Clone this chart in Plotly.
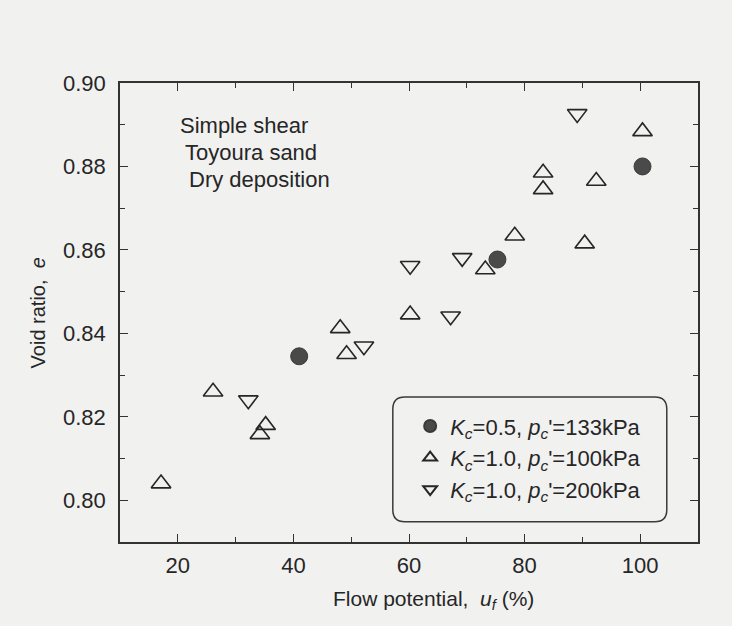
import plotly.graph_objects as go

# Flow potential u_f (%) and void ratio e for each test series
kc05_p133_u = [41.0, 75.3, 100.4]
kc05_p133_e = [0.8345, 0.8577, 0.8800]

kc10_p100_u = [17.1, 26.1, 34.2, 35.2, 48.1, 49.2, 60.2, 73.2, 78.3, 83.2, 83.2, 90.4, 92.4, 100.4]
kc10_p100_e = [0.8040, 0.8260, 0.8158, 0.8180, 0.8412, 0.8350, 0.8445, 0.8553, 0.8634, 0.8785, 0.8745, 0.8615, 0.8765, 0.8884]

kc10_p200_u = [32.2, 52.2, 60.2, 67.2, 69.2, 89.1]
kc10_p200_e = [0.8240, 0.8369, 0.8562, 0.8441, 0.8581, 0.8926]

series_names = [
    "<i>K</i><sub><i>c</i></sub>=0.5, <i>p</i><sub><i>c</i></sub>'=133kPa",
    "<i>K</i><sub><i>c</i></sub>=1.0, <i>p</i><sub><i>c</i></sub>'=100kPa",
    "<i>K</i><sub><i>c</i></sub>=1.0, <i>p</i><sub><i>c</i></sub>'=200kPa",
]
notes = ["Simple shear", "Toyoura sand", "Dry deposition"]
x_title = "Flow potential,  <i>u</i><sub><i>f</i></sub> (%)"
y_title = "Void ratio,  <i>e</i>"

x_ticks = [20, 40, 60, 80, 100]
y_ticks = [0.80, 0.82, 0.84, 0.86, 0.88, 0.90]

FONT = "Liberation Sans, Arial, sans-serif"
INK = "#262626"
BG = "#f1f1f0"

fig = go.Figure()
fig.add_trace(go.Scatter(
    x=kc05_p133_u, y=kc05_p133_e, mode="markers", name=series_names[0], legendgroup="a",
    marker=dict(symbol="circle", size=17, color="#4a4a4a", line=dict(color="#3a3a3a", width=1)),
))
fig.add_trace(go.Scatter(
    x=kc10_p100_u, y=kc10_p100_e, mode="markers", name=series_names[1], legendgroup="b",
    marker=dict(symbol="triangle-up-open", size=17, color=INK, line=dict(color=INK, width=1.6)),
))
fig.add_trace(go.Scatter(
    x=kc10_p200_u, y=kc10_p200_e, mode="markers", name=series_names[2], legendgroup="c",
    marker=dict(symbol="triangle-down-open", size=17, color=INK, line=dict(color=INK, width=1.6)),
))

# rounded frame drawn behind the legend entries
W, H = 578.0, 459.0
x0, x1 = 0.472, 0.946
y0, y1 = 0.044, 0.316
rx, ry = 12 / W, 12 / H
legend_box = (
    f"M {x0 + rx},{y1} L {x1 - rx},{y1} Q {x1},{y1} {x1},{y1 - ry} "
    f"L {x1},{y0 + ry} Q {x1},{y0} {x1 - rx},{y0} "
    f"L {x0 + rx},{y0} Q {x0},{y0} {x0},{y0 + ry} "
    f"L {x0},{y1 - ry} Q {x0},{y1} {x0 + rx},{y1} Z"
)
fig.add_shape(type="path", path=legend_box, xref="paper", yref="paper",
              line=dict(color="#3a3a3a", width=1.5), fillcolor=BG, layer="below")

note_pos = [(0.100, 0.908), (0.109, 0.849), (0.116, 0.789)]
for text, (nx, ny) in zip(notes, note_pos):
    fig.add_annotation(text=text, x=nx, y=ny, xref="paper", yref="paper",
                       xanchor="left", yanchor="middle", showarrow=False,
                       font=dict(family=FONT, size=22, color=INK))

# axis titles
fig.add_annotation(text=x_title, x=0.543, y=-0.126, xref="paper", yref="paper",
                   xanchor="center", yanchor="middle", showarrow=False,
                   font=dict(family=FONT, size=21, color=INK))
fig.add_annotation(text=y_title, x=-0.142, y=0.5, xref="paper", yref="paper",
                   xanchor="center", yanchor="middle", showarrow=False, textangle=-90,
                   font=dict(family=FONT, size=20, color=INK))

axis_common = dict(
    showgrid=False, zeroline=False, showline=True, linecolor="#333333", linewidth=1.5,
    mirror="ticks", ticks="inside", ticklen=8, tickwidth=1.3, tickcolor="#333333",
    tickfont=dict(family=FONT, size=22, color=INK),
)

fig.update_xaxes(
    range=[10, 110], tickvals=x_ticks, ticktext=[str(v) for v in x_ticks],
    minor=dict(ticks="inside", ticklen=5, tickwidth=1.2, dtick=10, tick0=0, tickcolor="#333333", showgrid=False),
    ticklabelstandoff=3,
    **axis_common,
)
fig.update_yaxes(
    range=[0.79, 0.90], tickvals=y_ticks, ticktext=[f"{v:.2f}" for v in y_ticks],
    minor=dict(ticks="inside", ticklen=5, tickwidth=1.2, dtick=0.01, tick0=0.8, tickcolor="#333333", showgrid=False),
    ticklabelstandoff=8,
    **axis_common,
)

fig.update_layout(
    width=732, height=626,
    margin=dict(l=120, r=34, t=83, b=84),
    paper_bgcolor=BG, plot_bgcolor=BG,
    font=dict(family=FONT, color=INK),
    showlegend=True,
    legend=dict(
        x=0.502, y=0.298, xanchor="left", yanchor="top",
        bgcolor="rgba(0,0,0,0)", borderwidth=0,
        font=dict(family=FONT, size=22, color=INK),
        tracegroupgap=0, itemsizing="constant",
    ),
)

fig.write_html("out.html")
